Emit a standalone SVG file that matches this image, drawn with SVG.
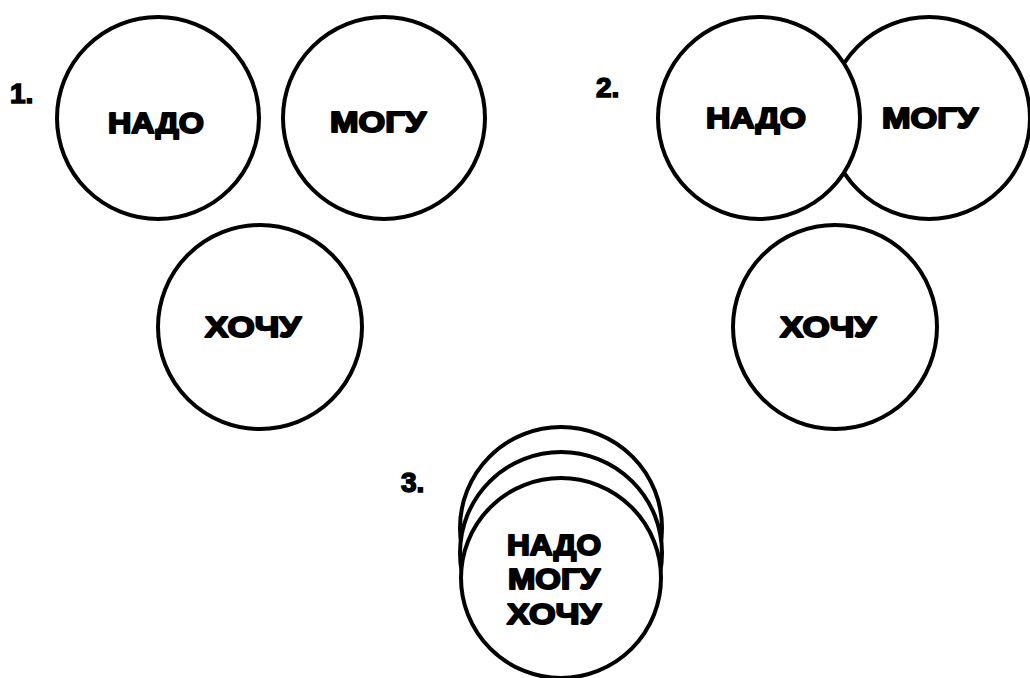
<svg xmlns="http://www.w3.org/2000/svg" width="1030" height="678" viewBox="0 0 1030 678">
<style>
.c{fill:#fff;stroke:#000;stroke-width:4}
.t{font-family:"Liberation Sans",Arial,sans-serif;font-weight:bold;font-size:30px;fill:#000;stroke:#000;stroke-width:2;stroke-linejoin:round;text-anchor:middle}
.n{font-family:"Liberation Sans",Arial,sans-serif;font-weight:bold;font-size:28px;fill:#000;stroke:#000;stroke-width:1.5}
</style>
<rect width="1030" height="678" fill="#fff"/>
<g id="labels">
<text class="n" x="10" y="103">1.</text>
<text class="n" x="596" y="97">2.</text>
<text class="n" x="401" y="492">3.</text>
</g>
<g id="g1-nado"><circle class="c" cx="158" cy="118" r="101"/><text class="t" x="156" y="133" textLength="96" lengthAdjust="spacingAndGlyphs">НАДО</text></g>
<g id="g1-mogu"><circle class="c" cx="384" cy="118" r="101"/><text class="t" x="378" y="132" textLength="96" lengthAdjust="spacingAndGlyphs">МОГУ</text></g>
<g id="g1-hochu"><circle class="c" cx="260" cy="327" r="102"/><text class="t" x="253" y="337" textLength="96" lengthAdjust="spacingAndGlyphs">ХОЧУ</text></g>
<g id="g2-mogu"><circle class="c" cx="929" cy="118" r="101"/><text class="t" x="930" y="128" textLength="96" lengthAdjust="spacingAndGlyphs">МОГУ</text></g>
<g id="g2-nado"><circle class="c" cx="759" cy="118" r="101"/><text class="t" x="756" y="128" textLength="100" lengthAdjust="spacingAndGlyphs">НАДО</text></g>
<g id="g2-hochu"><circle class="c" cx="835" cy="327" r="102"/><text class="t" x="828" y="337" textLength="96" lengthAdjust="spacingAndGlyphs">ХОЧУ</text></g>
<g id="g3-back"><circle class="c" cx="561" cy="528" r="101"/></g>
<g id="g3-mid"><circle class="c" cx="561" cy="553" r="101"/></g>
<g id="g3-front"><circle class="c" cx="561" cy="578" r="100"/>
<text class="t" x="554" y="555" textLength="94" lengthAdjust="spacingAndGlyphs">НАДО</text>
<text class="t" x="554" y="589" textLength="92" lengthAdjust="spacingAndGlyphs">МОГУ</text>
<text class="t" x="554" y="624" textLength="94" lengthAdjust="spacingAndGlyphs">ХОЧУ</text>
</g>
<g id="connectors"/>
</svg>
